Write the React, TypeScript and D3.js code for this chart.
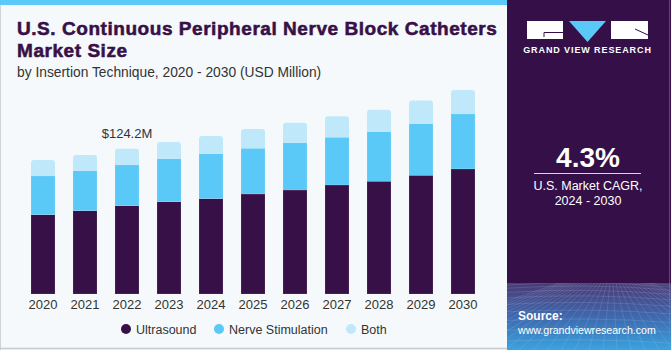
import * as d3 from 'd3';

const years = ['2020', '2021', '2022', '2023', '2024', '2025', '2026', '2027', '2028', '2029', '2030'];
const ultrasound = [67.8, 71.2, 75.5, 78.9, 81.5, 85.5, 88.9, 93.2, 96.4, 101.5, 106.9];
const nerveStimulation = [33.1, 34.2, 34.8, 36.8, 38.5, 39.1, 40.4, 40.8, 42.4, 44.1, 47.0];
const both = [13.7, 13.4, 13.9, 14.3, 15.1, 16.5, 17.1, 18.0, 18.6, 19.7, 20.5];
const seriesNames = ['Ultrasound', 'Nerve Stimulation', 'Both'];
const colors = ['#371047', '#5bc9f7', '#bfe9fa'];
const labelYear = '2022';
const labelText = '$124.2M';

const W = 671;
const H = 350;
const font = '"Liberation Sans", Arial, sans-serif';

const topPath = (x: number, y: number, w: number, h: number, r: number) =>
  `M${x},${y + h}V${y + r}Q${x},${y} ${x + r},${y}H${x + w - r}Q${x + w},${y} ${x + w},${y + r}V${y + h}Z`;

export default function App() {
  const x = d3.scaleBand<string>().domain(years).range([22, 484]).paddingInner(0.4286).paddingOuter(0.2143);
  const y = d3.scaleLinear().domain([0, 124.2]).range([294, 148.7]);

  const rows = years.map((yr, i) => ({ year: yr, Ultrasound: ultrasound[i], 'Nerve Stimulation': nerveStimulation[i], Both: both[i] }));
  const stacked = d3.stack<any>().keys(seriesNames)(rows);
  const bw = x.bandwidth();

  const legendX = [126, 219, 351];

  // mesh lines for the footer of the side panel
  const meshH = d3.range(0, 12).map((i) => 283 + i * i * 0.55 + i * 1.5);
  const meshV = d3.range(-10, 22).map((i) => i);

  return (
    <svg width={W} height={H} style={{ position: 'absolute', left: 0, top: 0 }}>
      <defs>
        <linearGradient id="foot" x1="0" y1="0" x2="0" y2="1">
          <stop offset="0" stopColor="#4a3a74" />
          <stop offset="0.5" stopColor="#3f68ad" />
          <stop offset="1" stopColor="#3aa3de" />
        </linearGradient>
        <clipPath id="footClip">
          <rect x={507} y={283} width={164} height={67} />
        </clipPath>
      </defs>
      <rect x={0} y={0} width={W} height={H} fill="#f5f9fc" />
      <rect x={0} y={0} width={507} height={5} fill="#5bc9f7" />
      <line x1={0.5} y1={5} x2={0.5} y2={H} stroke="#cfd3d8" />
      <line x1={0} y1={H - 1.5} x2={507} y2={H - 1.5} stroke="#c8ccd1" strokeWidth={1.5} />

      <g fontFamily={font} fontWeight="bold" fontSize={19} fill="#371047" stroke="#371047" strokeWidth={0.55} letterSpacing={0.55}>
        <text x={17} y={35}>U.S. Continuous Peripheral Nerve Block Catheters</text>
        <text x={17} y={57}>Market Size</text>
      </g>
      <text x={17} y={77} fontFamily={font} fontSize={13.8} fill="#333">
        by Insertion Technique, 2020 - 2030 (USD Million)
      </text>

      {stacked.map((s, si) => (
        <g key={s.key} fill={colors[si]}>
          {s.map((d, i) => {
            const bx = x(years[i]) as number;
            const y0 = y(d[0]);
            const y1 = y(d[1]);
            return si === stacked.length - 1 ? (
              <path key={i} d={topPath(bx, y1, bw, y0 - y1, 3)} />
            ) : (
              <rect key={i} x={bx} y={y1} width={bw} height={y0 - y1} stroke="rgba(255,255,255,0.25)" strokeWidth={0.5} />
            );
          })}
        </g>
      ))}

      <text
        x={(x(labelYear) as number) + bw / 2}
        y={138}
        textAnchor="middle"
        fontFamily={font}
        fontSize={13}
        fill="#333"
      >
        {labelText}
      </text>

      {years.map((yr) => (
        <text key={yr} x={(x(yr) as number) + bw / 2} y={309} textAnchor="middle" fontFamily={font} fontSize={13} fill="#333">
          {yr}
        </text>
      ))}

      {seriesNames.map((n, i) => (
        <g key={n}>
          <circle cx={legendX[i]} cy={329} r={5} fill={colors[i]} />
          <text x={legendX[i] + 10} y={333.5} fontFamily={font} fontSize={12.5} fill="#333">
            {n}
          </text>
        </g>
      ))}

      {/* side panel */}
      <rect x={507} y={0} width={164} height={H} fill="#351048" />
      <rect x={507} y={283} width={164} height={67} fill="url(#foot)" />
      <g clipPath="url(#footClip)" stroke="rgba(200,220,255,0.25)" strokeWidth={0.6} fill="none">
        {meshH.map((yy, i) => (
          <path key={'h' + i} d={`M507,${yy}Q589,${yy - 6 + i * 0.3} 671,${yy + 2}`} />
        ))}
        {meshV.map((i) => (
          <line key={'v' + i} x1={589 + i * 3} y1={283} x2={589 + (i - 6) * 14} y2={350} />
        ))}
      </g>
      <line x1={669.5} y1={0} x2={669.5} y2={H} stroke="#8a7fa0" strokeWidth={1} opacity={0.5} />

      {/* logo */}
      <rect x={527} y={21} width={36} height={18} fill="#fff" />
      <path d="M563,32.5H544V37" fill="none" stroke="#351048" strokeWidth={1} />
      <path d="M569,21H606L587.5,42Z" fill="#5bc9f7" />
      <rect x={611} y={21} width={37} height={18} fill="#fff" />
      <path d="M635,29L648,35" stroke="#351048" strokeWidth={1} />
      <text x={587.5} y={53} textAnchor="middle" fontFamily={font} fontWeight="bold" fontSize={9} letterSpacing={0.9} fill="#fff">
        GRAND VIEW RESEARCH
      </text>

      <text x={588} y={167} textAnchor="middle" fontFamily={font} fontWeight="bold" fontSize={28} fill="#fff">
        4.3%
      </text>
      <line x1={534} y1={173.5} x2={641} y2={173.5} stroke="#d9d0e3" strokeWidth={1} />
      <text x={588} y={190} textAnchor="middle" fontFamily={font} fontSize={12.5} fill="#fff">
        U.S. Market CAGR,
      </text>
      <text x={588} y={205} textAnchor="middle" fontFamily={font} fontSize={12.5} fill="#fff">
        2024 - 2030
      </text>

      <text x={518} y={320} fontFamily={font} fontWeight="bold" fontSize={12} fill="#fff">
        Source:
      </text>
      <text x={518} y={334} fontFamily={font} fontSize={10.6} fill="#fff">
        www.grandviewresearch.com
      </text>
    </svg>
  );
}
